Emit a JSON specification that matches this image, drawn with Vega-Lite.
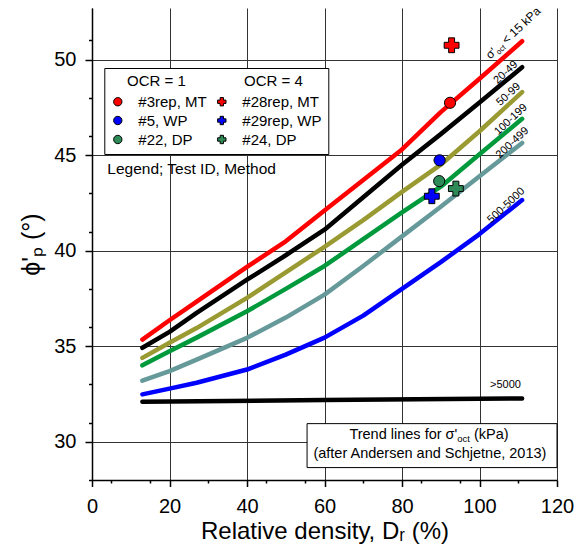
{
  "$schema": "https://vega.github.io/schema/vega-lite/v6.json",
  "width": 465,
  "height": 472,
  "autosize": {"type": "none"},
  "padding": {"left": 92, "top": 8, "right": 30, "bottom": 70},
  "config": {
    "font": "Liberation Sans",
    "view": {"stroke": null},
    "text": {"font": "Liberation Sans", "color": "black"}
  },
  "datasets": {
    "curves": [
      {"s": "<15", "x": 13, "y": 35.35}, {"s": "<15", "x": 20, "y": 36.36}, {"s": "<15", "x": 27, "y": 37.33}, {"s": "<15", "x": 40, "y": 39.15}, {"s": "<15", "x": 50, "y": 40.49}, {"s": "<15", "x": 60, "y": 42.1}, {"s": "<15", "x": 70, "y": 43.7}, {"s": "<15", "x": 80, "y": 45.3}, {"s": "<15", "x": 90, "y": 47.25}, {"s": "<15", "x": 100, "y": 49.0}, {"s": "<15", "x": 111, "y": 50.96},
      {"s": "20-49", "x": 13, "y": 34.92}, {"s": "20-49", "x": 20, "y": 35.75}, {"s": "20-49", "x": 27, "y": 36.75}, {"s": "20-49", "x": 40, "y": 38.48}, {"s": "20-49", "x": 50, "y": 39.76}, {"s": "20-49", "x": 60, "y": 41.1}, {"s": "20-49", "x": 70, "y": 42.8}, {"s": "20-49", "x": 80, "y": 44.5}, {"s": "20-49", "x": 90, "y": 46.1}, {"s": "20-49", "x": 100, "y": 47.75}, {"s": "20-49", "x": 111, "y": 49.6},
      {"s": "50-99", "x": 13, "y": 34.39}, {"s": "50-99", "x": 20, "y": 35.18}, {"s": "50-99", "x": 27, "y": 35.95}, {"s": "50-99", "x": 40, "y": 37.53}, {"s": "50-99", "x": 50, "y": 38.87}, {"s": "50-99", "x": 60, "y": 40.2}, {"s": "50-99", "x": 70, "y": 41.6}, {"s": "50-99", "x": 80, "y": 43.08}, {"s": "50-99", "x": 90, "y": 44.5}, {"s": "50-99", "x": 100, "y": 46.25}, {"s": "50-99", "x": 111, "y": 48.3},
      {"s": "100-199", "x": 13, "y": 34.0}, {"s": "100-199", "x": 20, "y": 34.74}, {"s": "100-199", "x": 27, "y": 35.45}, {"s": "100-199", "x": 40, "y": 36.83}, {"s": "100-199", "x": 50, "y": 38.0}, {"s": "100-199", "x": 60, "y": 39.2}, {"s": "100-199", "x": 70, "y": 40.6}, {"s": "100-199", "x": 80, "y": 42.0}, {"s": "100-199", "x": 90, "y": 43.35}, {"s": "100-199", "x": 100, "y": 45.05}, {"s": "100-199", "x": 111, "y": 46.9},
      {"s": "200-499", "x": 13, "y": 33.2}, {"s": "200-499", "x": 20, "y": 33.7}, {"s": "200-499", "x": 27, "y": 34.3}, {"s": "200-499", "x": 40, "y": 35.44}, {"s": "200-499", "x": 50, "y": 36.5}, {"s": "200-499", "x": 60, "y": 37.7}, {"s": "200-499", "x": 70, "y": 39.2}, {"s": "200-499", "x": 80, "y": 40.75}, {"s": "200-499", "x": 90, "y": 42.3}, {"s": "200-499", "x": 100, "y": 43.9}, {"s": "200-499", "x": 111, "y": 45.64},
      {"s": "500-5000", "x": 13, "y": 32.48}, {"s": "500-5000", "x": 20, "y": 32.78}, {"s": "500-5000", "x": 27, "y": 33.09}, {"s": "500-5000", "x": 40, "y": 33.78}, {"s": "500-5000", "x": 50, "y": 34.56}, {"s": "500-5000", "x": 60, "y": 35.45}, {"s": "500-5000", "x": 70, "y": 36.6}, {"s": "500-5000", "x": 80, "y": 38.0}, {"s": "500-5000", "x": 90, "y": 39.4}, {"s": "500-5000", "x": 100, "y": 40.87}, {"s": "500-5000", "x": 111, "y": 42.65},
      {"s": ">5000", "x": 13, "y": 32.1}, {"s": ">5000", "x": 60, "y": 32.18}, {"s": ">5000", "x": 111, "y": 32.27}
    ],
    "tests": [
      {"test": "#3rep, MT", "ocr": "1", "x": 92.4, "y": 47.74},
      {"test": "#5, WP", "ocr": "1", "x": 89.7, "y": 44.73},
      {"test": "#22, DP", "ocr": "1", "x": 89.6, "y": 43.64},
      {"test": "#28rep, MT", "ocr": "4", "x": 92.8, "y": 50.75},
      {"test": "#29rep, WP", "ocr": "4", "x": 87.7, "y": 42.85},
      {"test": "#24, DP", "ocr": "4", "x": 93.9, "y": 43.25}
    ],
    "curveLabels": [
      {"label": "20-49", "x": 106.8, "y": 49.32},
      {"label": "50-99", "x": 107.5, "y": 48.17},
      {"label": "100-199", "x": 108.1, "y": 46.86},
      {"label": "200-499", "x": 108.5, "y": 45.64},
      {"label": "500-5000", "x": 106.9, "y": 42.36}
    ],
    "flatLabel": [{"label": ">5000", "x": 106.7, "y": 32.95}],
    "redLabel": [{"a": "σ'", "b": "oct", "c": "< 15 kPa", "x": 102.8, "y": 50.0}],
    "box": [{"x1": 55.5, "x2": 120, "y1": 28.65, "y2": 30.95}],
    "boxLine1": [{"a": "Trend lines for σ'", "b": "oct", "c": "(kPa)", "x": 87.2, "y": 30.33}],
    "boxLine2": [{"t": "(after Andersen and Schjetne, 2013)", "x": 87.2, "y": 29.38}],
    "note": [{"t": "Legend; Test ID, Method", "x": 3.95, "y": 44.25}]
  },
  "resolve": {
    "scale": {"x": "independent", "y": "independent"},
    "axis": {"x": "independent", "y": "independent"}
  },
  "layer": [
    {
      "layer": [
        {
          "data": {"name": "curves"},
          "mark": {"type": "line", "strokeWidth": 4.5, "strokeCap": "round", "strokeJoin": "round"},
          "encoding": {
            "x": {
              "field": "x", "type": "quantitative",
              "scale": {"domain": [0, 120], "nice": false, "zero": false},
              "axis": {
                "orient": "bottom",
                "title": "Relative density, Dᵣ (%)",
                "values": [0, 20, 40, 60, 80, 100, 120],
                "labelFontSize": 20, "labelFont": "Liberation Sans", "labelColor": "black", "labelPadding": 10, "labelFlush": false, "labelOverlap": false,
                "tickSize": 6.5, "tickColor": "black", "tickWidth": 1.5,
                "domainColor": "black", "domainWidth": 1.5,
                "grid": true, "gridColor": "#333333", "gridWidth": 1,
                "titleFont": "Liberation Sans", "titleFontSize": 24, "titleFontWeight": "normal", "titleColor": "black", "titlePadding": 3
              }
            },
            "y": {
              "field": "y", "type": "quantitative",
              "scale": {"domain": [28, 52.7], "nice": false, "zero": false},
              "axis": {
                "orient": "left",
                "title": "ϕ'ₚ (°)",
                "values": [30, 35, 40, 45, 50],
                "labelFontSize": 20, "labelFont": "Liberation Sans", "labelColor": "black", "labelPadding": 9, "labelOverlap": false, "labelFlush": false,
                "tickSize": 7, "tickColor": "black", "tickWidth": 1.5,
                "domainColor": "black", "domainWidth": 1.5,
                "grid": true, "gridColor": "#333333", "gridWidth": 1,
                "titleFont": "Liberation Sans", "titleFontSize": 25, "titleFontWeight": "normal", "titleColor": "black", "titlePadding": 9
              }
            },
            "stroke": {
              "field": "s", "type": "nominal",
              "scale": {
                "domain": ["<15", "20-49", "50-99", "100-199", "200-499", "500-5000", ">5000"],
                "range": ["#ff0000", "#000000", "#9a9a33", "#009a3c", "#669999", "#0000ff", "#000000"]
              },
              "legend": null
            },
            "detail": {"field": "s"}
          }
        },
        {
          "data": {"name": "tests"},
          "transform": [{"filter": "datum.ocr === '1'"}],
          "mark": {"type": "point", "filled": true, "stroke": "black", "strokeWidth": 1, "size": 125, "opacity": 1},
          "encoding": {
            "x": {"field": "x", "type": "quantitative"},
            "y": {"field": "y", "type": "quantitative"},
            "fill": {
              "field": "test", "type": "nominal",
              "scale": {
                "domain": ["#3rep, MT", "#5, WP", "#22, DP", "#28rep, MT", "#29rep, WP", "#24, DP"],
                "range": ["#ff0000", "#0000ff", "#2e8b57", "#ff0000", "#0000ff", "#2e8b57"]
              },
              "legend": {
                "title": "\u200b\u00a0\u00a0\u00a0\u00a0OCR = 1\u00a0\u00a0\u00a0\u00a0\u00a0\u00a0\u00a0\u00a0\u00a0\u00a0\u00a0\u00a0\u00a0\u00a0OCR = 4",
                "orient": "none", "legendX": 12.3, "legendY": 60,
                "columns": 2, "gridAlign": "each",
                "strokeColor": "black", "fillColor": "white", "padding": 6,
                "titleFont": "Liberation Sans", "titleFontSize": 15, "titleFontWeight": "normal", "titleColor": "black", "titlePadding": 5, "titleLimit": 400,
                "labelFont": "Liberation Sans", "labelFontSize": 15, "labelColor": "black", "labelOffset": 13, "labelLimit": 200,
                "columnPadding": 7, "rowPadding": 3,
                "symbolSize": 70, "symbolStrokeColor": "black", "symbolStrokeWidth": 1
              }
            },
            "shape": {
              "field": "test", "type": "nominal",
              "scale": {
                "domain": ["#3rep, MT", "#5, WP", "#22, DP", "#28rep, MT", "#29rep, WP", "#24, DP"],
                "range": ["circle", "circle", "circle", "cross", "cross", "cross"]
              }
            }
          }
        },
        {
          "data": {"name": "tests"},
          "transform": [{"filter": "datum.ocr === '4'"}],
          "mark": {"type": "point", "filled": true, "stroke": "black", "strokeWidth": 1, "size": 220, "opacity": 1},
          "encoding": {
            "x": {"field": "x", "type": "quantitative"},
            "y": {"field": "y", "type": "quantitative"},
            "fill": {"field": "test", "type": "nominal"},
            "shape": {"field": "test", "type": "nominal"}
          }
        },
        {
          "data": {"name": "curveLabels"},
          "mark": {"type": "text", "fontSize": 11, "angle": -43, "align": "center", "baseline": "middle"},
          "encoding": {
            "x": {"field": "x", "type": "quantitative"},
            "y": {"field": "y", "type": "quantitative"},
            "text": {"field": "label"}
          }
        },
        {
          "data": {"name": "flatLabel"},
          "mark": {"type": "text", "fontSize": 11, "align": "center", "baseline": "middle"},
          "encoding": {
            "x": {"field": "x", "type": "quantitative"},
            "y": {"field": "y", "type": "quantitative"},
            "text": {"field": "label"}
          }
        },
        {
          "data": {"name": "redLabel"},
          "mark": {"type": "text", "fontSize": 12, "angle": -43, "align": "left", "baseline": "alphabetic"},
          "encoding": {
            "x": {"field": "x", "type": "quantitative"},
            "y": {"field": "y", "type": "quantitative"},
            "text": {"field": "a"}
          }
        },
        {
          "data": {"name": "redLabel"},
          "mark": {"type": "text", "fontSize": 7.5, "angle": -43, "align": "left", "baseline": "alphabetic", "dx": 9.5, "dy": 2.5},
          "encoding": {
            "x": {"field": "x", "type": "quantitative"},
            "y": {"field": "y", "type": "quantitative"},
            "text": {"field": "b"}
          }
        },
        {
          "data": {"name": "redLabel"},
          "mark": {"type": "text", "fontSize": 12, "angle": -43, "align": "left", "baseline": "alphabetic", "dx": 22},
          "encoding": {
            "x": {"field": "x", "type": "quantitative"},
            "y": {"field": "y", "type": "quantitative"},
            "text": {"field": "c"}
          }
        },
        {
          "data": {"name": "note"},
          "mark": {"type": "text", "fontSize": 15.5, "align": "left", "baseline": "middle"},
          "encoding": {
            "x": {"field": "x", "type": "quantitative"},
            "y": {"field": "y", "type": "quantitative"},
            "text": {"field": "t"}
          }
        }
      ]
    },
    {
      "layer": [
        {
          "data": {"name": "box"},
          "mark": {"type": "rect", "fill": "white", "stroke": "black", "strokeWidth": 1},
          "encoding": {
            "x": {
              "field": "x1", "type": "quantitative",
              "scale": {"domain": [0, 120], "nice": false, "zero": false},
              "axis": {
                "orient": "bottom", "title": null, "labels": false, "domain": false, "grid": false,
                "values": [5, 10, 15, 25, 30, 35, 45, 50, 55, 65, 70, 75, 85, 90, 95, 105, 110, 115],
                "tickSize": 3, "tickColor": "black", "tickWidth": 1.5
              }
            },
            "x2": {"field": "x2"},
            "y": {
              "field": "y1", "type": "quantitative",
              "scale": {"domain": [28, 52.7], "nice": false, "zero": false},
              "axis": {
                "orient": "left", "title": null, "labels": false, "domain": false, "grid": false,
                "values": [28, 29, 31, 32, 33, 34, 36, 37, 38, 39, 41, 42, 43, 44, 46, 47, 48, 49, 51, 52],
                "tickSize": 3.5, "tickColor": "black", "tickWidth": 1.5
              }
            },
            "y2": {"field": "y2"}
          }
        },
        {
          "data": {"name": "boxLine1"},
          "mark": {"type": "text", "fontSize": 14.5, "align": "right", "baseline": "middle", "dx": 27.4},
          "encoding": {
            "x": {"field": "x", "type": "quantitative"},
            "y": {"field": "y", "type": "quantitative"},
            "text": {"field": "a"}
          }
        },
        {
          "data": {"name": "boxLine1"},
          "mark": {"type": "text", "fontSize": 9.5, "align": "left", "baseline": "middle", "dx": 27.4, "dy": 4},
          "encoding": {
            "x": {"field": "x", "type": "quantitative"},
            "y": {"field": "y", "type": "quantitative"},
            "text": {"field": "b"}
          }
        },
        {
          "data": {"name": "boxLine1"},
          "mark": {"type": "text", "fontSize": 14.5, "align": "left", "baseline": "middle", "dx": 44},
          "encoding": {
            "x": {"field": "x", "type": "quantitative"},
            "y": {"field": "y", "type": "quantitative"},
            "text": {"field": "c"}
          }
        },
        {
          "data": {"name": "boxLine2"},
          "mark": {"type": "text", "fontSize": 14.5, "align": "center", "baseline": "middle"},
          "encoding": {
            "x": {"field": "x", "type": "quantitative"},
            "y": {"field": "y", "type": "quantitative"},
            "text": {"field": "t"}
          }
        }
      ]
    }
  ]
}
